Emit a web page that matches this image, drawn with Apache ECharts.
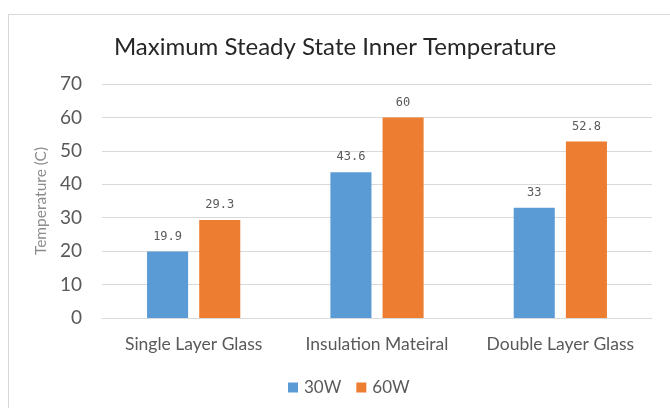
<!DOCTYPE html>
<html>
<head>
<meta charset="utf-8">
<script src="https://cdn.jsdelivr.net/npm/echarts@6/dist/echarts.min.js"></script>
<style>
  html, body { margin: 0; padding: 0; background: #ffffff; }
  #frame { position: absolute; left: 8px; top: 14px; width: 680px; height: 420px; border: 1px solid #d9d9d9; box-sizing: border-box; }
  #chart { position: absolute; left: 0; top: 0; width: 670px; height: 408px; }
</style>
</head>
<body>
<div id="frame"></div>
<div id="chart"></div>
<script>
const categories = ['Single Layer Glass', 'Insulation Mateiral', 'Double Layer Glass'];
const series30W = [19.9, 43.6, 33];
const series60W = [29.3, 60, 52.8];
const seriesNames = ['30W', '60W'];
const yTicks = [0, 10, 20, 30, 40, 50, 60, 70];

const FONT = 'Lato, "Open Sans", sans-serif';
const chart = echarts.init(document.getElementById('chart'), null, { renderer: 'canvas' });

const labelStyle = {
  show: true,
  position: 'top',
  distance: 9,
  color: '#595959',
  fontFamily: '"DejaVu Sans Mono", monospace',
  fontSize: 12
};

chart.setOption({
  animation: false,
  backgroundColor: 'transparent',
  title: {
    text: 'Maximum Steady State Inner Temperature',
    left: 'center',
    top: 30,
    textStyle: { fontFamily: FONT, fontSize: 24, fontWeight: 'normal', color: '#262626' }
  },
  legend: {
    data: seriesNames,
    top: 374,
    left: 283,
    itemWidth: 10,
    itemHeight: 10,
    itemGap: 15,
    icon: 'rect',
    textStyle: { fontFamily: FONT, fontSize: 17, color: '#595959', padding: [0, 0, 0, 1] }
  },
  grid: { left: 102, right: 18, top: 84, bottom: 90, containLabel: false },
  xAxis: {
    type: 'category',
    data: categories,
    axisLine: { show: true, lineStyle: { color: '#d9d9d9' } },
    axisTick: { show: false },
    axisLabel: { interval: 0, hideOverlap: false, fontFamily: FONT, fontSize: 17.5, color: '#595959', margin: 17 }
  },
  yAxis: {
    type: 'value',
    min: yTicks[0],
    max: yTicks[yTicks.length - 1],
    interval: 10,
    name: 'Temperature (C)',
    nameLocation: 'middle',
    nameGap: 51,
    nameTextStyle: { fontFamily: FONT, fontSize: 15.5, color: '#8c8c8c' },
    axisLine: { show: false },
    axisTick: { show: false },
    axisLabel: { fontFamily: FONT, fontSize: 19, color: '#595959', margin: 20 },
    splitLine: { lineStyle: { color: '#d9d9d9' } }
  },
  series: [
    {
      name: seriesNames[0],
      type: 'bar',
      data: series30W,
      barWidth: '22.4%',
      barGap: '27%',
      itemStyle: { color: '#5b9bd5' },
      label: labelStyle
    },
    {
      name: seriesNames[1],
      type: 'bar',
      data: series60W,
      barWidth: '22.4%',
      itemStyle: { color: '#ed7d31' },
      label: labelStyle
    }
  ]
});
</script>
</body>
</html>
